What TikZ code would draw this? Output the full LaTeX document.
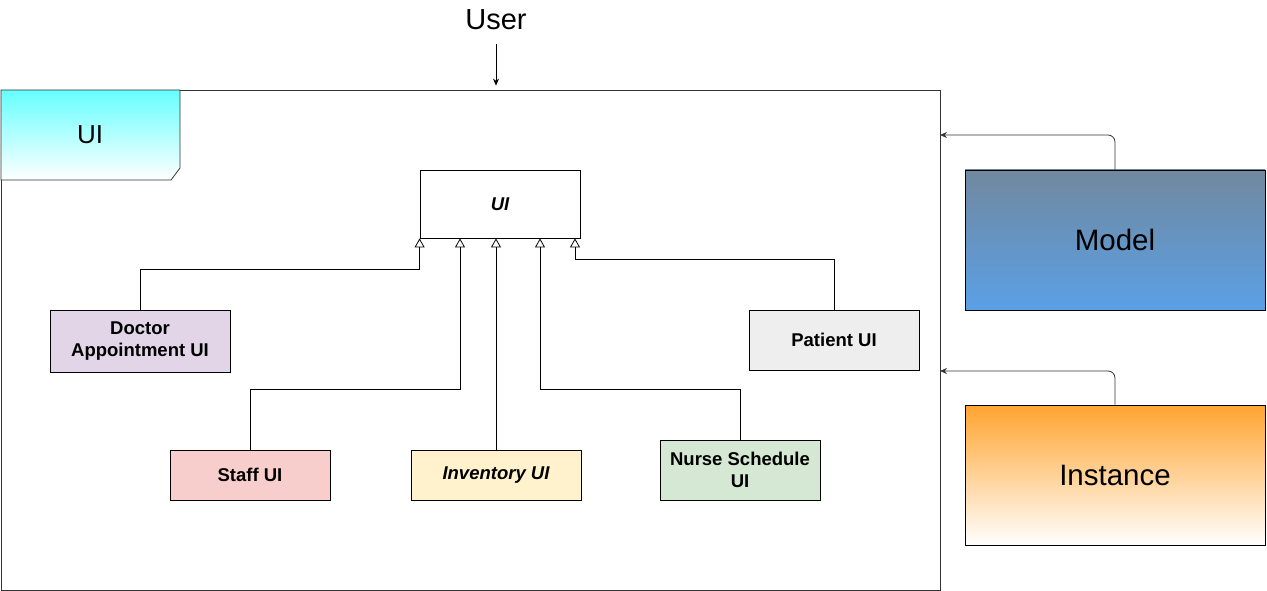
\documentclass[tikz,border=0pt]{standalone}
\usepackage{fontspec}
\setmainfont{Liberation Sans}
\usepackage{tikz}
\usetikzlibrary{arrows.meta}

\definecolor{tabcyan}{HTML}{66FFFF}
\definecolor{docfill}{HTML}{E1D5E7}
\definecolor{patfill}{HTML}{EEEEEE}
\definecolor{stafffill}{HTML}{F8CECC}
\definecolor{invfill}{HTML}{FFF2CC}
\definecolor{nursefill}{HTML}{D5E8D4}
\definecolor{mdltop}{HTML}{71889E}
\definecolor{mdlbot}{HTML}{5AA0E6}
\definecolor{insttop}{HTML}{FFA42F}
\definecolor{edge}{HTML}{333333}

\begin{document}
\begin{tikzpicture}[x = 1pt, y = -1pt, line width = 0.8pt,
                    cls/.style = {draw, font = \fontsize{18.5}{22}\selectfont\bfseries,
                                  align = center, inner sep = 0pt},
                    comp/.style = {draw, font = \fontsize{29.5}{32}\selectfont, inner sep = 0pt},
                    inh/.style = {-{Triangle[open, length = 9pt, width = 10pt]}},
                    dep/.style = {-{Stealth[length = 7pt, width = 6pt]}, edge, rounded corners = 7pt}]

\useasboundingbox (0,0) rectangle (1267,591);

% container
\node [draw = edge, minimum width = 939pt, minimum height = 500pt, inner sep = 0pt] (frame) at (470.5,340) {};
\shade [top color = tabcyan, bottom color = white, draw = edge]
  (1,90) -- (180,90) -- (180,168) -- (171,180) -- (1,180) -- cycle;
\node [font = \fontsize{26}{30}\selectfont] (tab) at (90,135) {UI};

% user
\node [font = \fontsize{29}{32}\selectfont] (user) at (496,20) {User};
\draw [-{Stealth[length = 7pt, width = 6pt]}, shorten < = 10pt, shorten > = 4pt] (user.south) -- (user.south |- frame.north);

% classes
\node [cls, font = \fontsize{18.5}{22}\selectfont\bfseries\itshape, minimum width = 160pt, minimum height = 68pt] (ui) at (500,204) {UI};
\node [cls, fill = docfill, minimum width = 180pt, minimum height = 62pt] (doc) at (140,341) {Doctor\\Appointment UI};
\node [cls, fill = patfill, minimum width = 170pt, minimum height = 60pt] (pat) at (834,340) {Patient UI};
\node [cls, fill = stafffill, minimum width = 160pt, minimum height = 50pt] (staff) at (250,475) {Staff UI};
\node [cls, fill = invfill, font = \fontsize{18.5}{22}\selectfont\bfseries\itshape, minimum width = 170pt, minimum height = 50pt] (inv) at (496,475) {Inventory UI};
\node [cls, fill = nursefill, minimum width = 160pt, minimum height = 60pt] (nurse) at (740,470) {Nurse Schedule\\UI};

\draw [inh] (doc.north) -- ++(0,-40) -| (ui.south west);
\draw [inh] (staff.north) -- ++(0,-60) -| ([xshift = -40pt]ui.south);
\draw [inh] (inv.north) -- (inv.north |- ui.south);
\draw [inh] (nurse.north) -- ++(0,-50) -| ([xshift = 40pt]ui.south);
\draw [inh] (pat.north) -- ++(0,-50) -| ([xshift = 75pt]ui.south);

% components
\node [comp, top color = mdltop, bottom color = mdlbot, minimum width = 300pt, minimum height = 140pt] (mdl) at (1115,240) {Model};
\node [comp, top color = insttop, bottom color = white, minimum width = 300pt, minimum height = 140pt] (inst) at (1115,475) {Instance};

\coordinate (mdlin) at (940,135);
\coordinate (instin) at (940,371);
\draw [dep] (mdl.north) |- (mdlin);
\draw [dep] (inst.north) |- (instin);
\end{tikzpicture}
\end{document}
